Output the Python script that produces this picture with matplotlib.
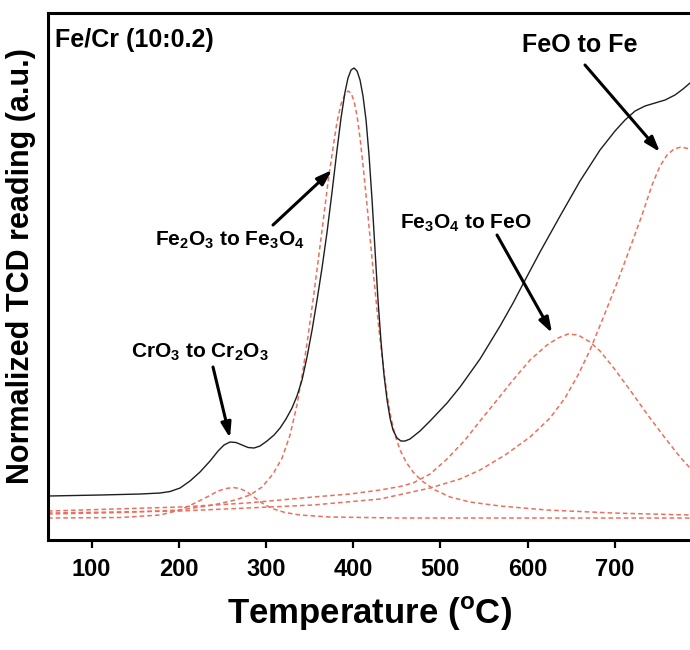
import matplotlib
matplotlib.use("Agg")
import matplotlib.pyplot as plt

plt.rcParams['font.family'] = ['Liberation Sans', 'DejaVu Sans']
plt.rcParams['font.weight'] = 'bold'
plt.rcParams['mathtext.fontset'] = 'custom'
plt.rcParams['mathtext.rm'] = 'Liberation Sans:bold'
plt.rcParams['mathtext.bf'] = 'Liberation Sans:bold'

# measured TPR profile (temperature in C, normalized TCD reading)
temp_meas = [50, 109.6, 155.5, 178.4, 189.9, 201.4, 212.8, 224.3, 235.8, 245.0, 251.8,
             258.7, 265.6, 272.5, 279.4, 286.2, 293.1, 301.1, 309.2, 316.1, 322.9,
             329.8, 335.5, 341.3, 347.0, 352.8, 358.5, 364.2, 370.0, 375.7, 381.4,
             386.0, 390.6, 394.0, 397.5, 400.9, 404.4, 407.8, 411.2, 414.7, 418.1,
             421.6, 425.0, 428.4, 431.9, 435.3, 438.8, 442.2, 445.6, 450.2, 454.8,
             459.4, 465.1, 476.6, 488.1, 507.6, 522.5, 545.4, 568.4, 583.3, 594.7,
             614.2, 637.2, 660.1, 683.0, 700.2, 711.7, 723.2, 734.6, 746.1, 757.6,
             769.0, 778.2, 786.2]
tcd_meas = [0.088, 0.090, 0.092, 0.094, 0.097, 0.104, 0.118, 0.136, 0.158, 0.178, 0.190,
            0.196, 0.195, 0.190, 0.185, 0.184, 0.188, 0.198, 0.210, 0.224, 0.242,
            0.264, 0.288, 0.320, 0.366, 0.420, 0.480, 0.544, 0.616, 0.696, 0.780,
            0.844, 0.896, 0.924, 0.940, 0.944, 0.938, 0.920, 0.888, 0.840, 0.770,
            0.680, 0.580, 0.480, 0.396, 0.330, 0.280, 0.244, 0.220, 0.204, 0.198,
            0.198, 0.202, 0.218, 0.238, 0.274, 0.306, 0.362, 0.428, 0.474, 0.512,
            0.576, 0.648, 0.718, 0.780, 0.818, 0.840, 0.858, 0.868, 0.874, 0.880,
            0.890, 0.902, 0.914]

# deconvoluted peaks
temp_cr = [50, 132.6, 178.4, 201.4, 218.6, 232.3, 245.0, 254.1, 262.2, 270.2, 278.2,
           286.2, 295.4, 306.9, 321.8, 339.0, 373.4, 453.7, 786.2]
tcd_cr = [0.044, 0.045, 0.050, 0.060, 0.074, 0.086, 0.098, 0.103, 0.105, 0.103, 0.096,
          0.086, 0.074, 0.063, 0.055, 0.050, 0.046, 0.044, 0.044]

temp_fe2o3 = [50, 132.6, 201.4, 239.2, 264.5, 281.6, 295.4, 308.0, 318.4, 327.5, 335.5,
              342.4, 348.2, 353.9, 359.6, 365.4, 371.1, 376.8, 381.4, 386.0, 390.6,
              394.0, 397.5, 400.9, 404.4, 407.8, 411.2, 415.8, 420.4, 425.0, 429.6,
              434.2, 438.8, 443.3, 447.9, 453.7, 460.6, 468.6, 478.9, 493.8, 511.0,
              533.9, 568.4, 622.2, 697.9, 786.2]
tcd_fe2o3 = [0.052, 0.055, 0.060, 0.070, 0.080, 0.090, 0.106, 0.132, 0.164, 0.210, 0.270,
             0.340, 0.408, 0.480, 0.556, 0.636, 0.716, 0.784, 0.836, 0.872, 0.892,
             0.898, 0.894, 0.878, 0.848, 0.804, 0.750, 0.670, 0.584, 0.500, 0.420,
             0.350, 0.290, 0.244, 0.210, 0.180, 0.156, 0.136, 0.118, 0.100, 0.086,
             0.076, 0.068, 0.060, 0.054, 0.050]

temp_fe3o4 = [50, 201.4, 278.2, 353.9, 396.3, 430.7, 453.7, 468.6, 488.1, 507.6, 528.2,
              545.4, 564.9, 583.3, 602.8, 622.2, 634.9, 646.3, 657.8, 671.6, 683.0,
              697.9, 717.4, 736.9, 757.6, 774.8, 786.2]
tcd_fe3o4 = [0.058, 0.066, 0.074, 0.086, 0.092, 0.100, 0.107, 0.114, 0.132, 0.162, 0.200,
             0.238, 0.280, 0.320, 0.360, 0.390, 0.404, 0.412, 0.410, 0.396, 0.378,
             0.346, 0.300, 0.252, 0.204, 0.166, 0.144]

temp_feo = [50, 201.4, 278.2, 353.9, 430.7, 488.1, 522.5, 545.4, 574.1, 602.8, 625.7,
            642.9, 657.8, 671.6, 686.5, 702.5, 717.4, 731.2, 742.7, 751.8, 759.9,
            767.9, 775.9, 786.2]
tcd_feo = [0.054, 0.058, 0.064, 0.070, 0.082, 0.104, 0.122, 0.140, 0.170, 0.206, 0.244,
           0.284, 0.330, 0.380, 0.444, 0.514, 0.584, 0.650, 0.710, 0.748, 0.770,
           0.782, 0.786, 0.782]

xticks = [100, 200, 300, 400, 500, 600, 700]

fig = plt.figure(figsize=(6.9, 6.5), dpi=100)
ax = fig.add_axes([0.0696, 0.1692, 0.9304, 0.8108])

red = '#ec6f5c'
for t, v in [(temp_cr, tcd_cr), (temp_fe2o3, tcd_fe2o3),
             (temp_fe3o4, tcd_fe3o4), (temp_feo, tcd_feo)]:
    ax.plot(t, v, color=red, lw=1.1, dashes=(3, 2))
ax.plot(temp_meas, tcd_meas, color='#1e1e1e', lw=1.0)

ax.set_xlim(50, 786.2)
ax.set_ylim(0, 1.054)
ax.set_xticks(xticks)
ax.set_yticks([])
ax.tick_params(axis='x', direction='out', length=6, width=1.6, pad=7, labelsize=17)
for lab in ax.get_xticklabels():
    lab.set_fontweight('bold')
for s in ['left', 'bottom', 'top']:
    ax.spines[s].set_linewidth(2.2)
ax.spines['right'].set_visible(False)

ax.set_xlabel(r'Temperature ($^\mathbf{o}$C)', fontsize=25, fontweight='bold', labelpad=10)
ax.set_ylabel('Normalized TCD reading (a.u.)', fontsize=22, fontweight='bold')
ax.yaxis.set_label_coords(-0.018, 0.52)

ax.text(0.011, 0.949, 'Fe/Cr (10:0.2)', transform=ax.transAxes, ha='left', va='center',
        fontsize=18, fontweight='bold')

arrow = dict(arrowstyle='-|>,head_length=0.9,head_width=0.3', lw=2.2, color='black',
             shrinkA=0, shrinkB=0)
labels = [
    ('FeO to Fe', 18, (660, 0.99), (665.8, 0.95), (751.8, 0.776)),
    (r'Fe$_\mathbf{2}$O$_\mathbf{3}$ to Fe$_\mathbf{3}$O$_\mathbf{4}$', 15,
     (258.7, 0.60), (308, 0.63), (375.7, 0.74)),
    (r'Fe$_\mathbf{3}$O$_\mathbf{4}$ to FeO', 15, (529.4, 0.634), (564.9, 0.61), (628, 0.414)),
    (r'CrO$_\mathbf{3}$ to Cr$_\mathbf{2}$O$_\mathbf{3}$', 15,
     (224.3, 0.376), (239.2, 0.346), (258.7, 0.204)),
]
for txt, fs, pos, start, tip in labels:
    ax.text(pos[0], pos[1], txt, ha='center', va='center', fontsize=fs, fontweight='bold')
    ax.annotate('', xy=tip, xytext=start, arrowprops=arrow)

fig.savefig('out.png', dpi=100)
